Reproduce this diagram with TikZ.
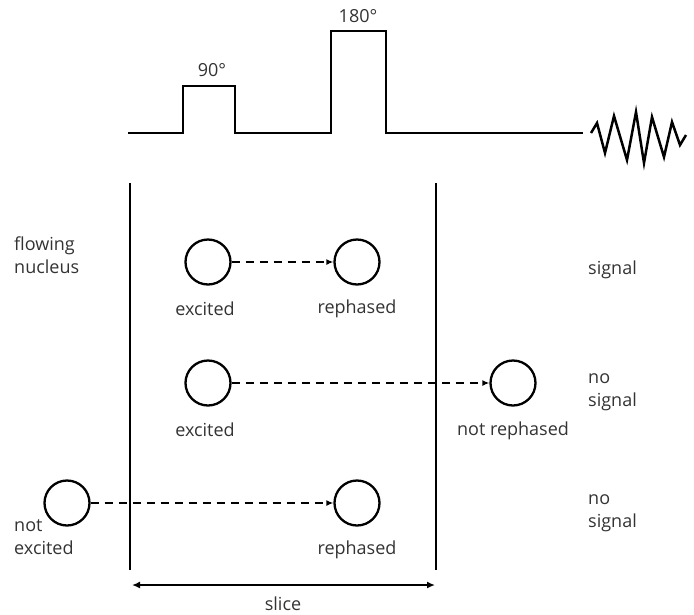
\documentclass[tikz,border=0pt]{standalone}
\usepackage{fontspec}
\setmainfont{Open Sans}
\usetikzlibrary{arrows.meta}
\begin{document}
\begin{tikzpicture}[x=1pt,y=-1pt,
  txt/.style={font=\fontsize{18}{23}\selectfont, text=black!80, inner sep=0pt},
  nuc/.style={circle, draw, line width=2.3pt, minimum size=45pt, inner sep=0pt},
  thick line/.style={line width=2.5pt},
  flow/.style={line width=1.6pt, dash pattern=on 8pt off 6pt, -{Latex[length=7pt,width=6pt]}}]
\useasboundingbox (0,0) rectangle (694,614);
% pulse sequence
\draw[thick line, line join=miter] (128,133) -- (183,133) -- (183,86) -- (235,86) -- (235,133)
  -- (331,133) -- (331,31) -- (386,31) -- (386,133) -- (583,133);
\draw[thick line, line join=miter] (591,133) -- (597,123) -- (605,153) -- (614,116) -- (627,160)
  -- (636,112) -- (644,163) -- (652,117) -- (664,157) -- (672,122) -- (680,145) -- (686,135);
\node[txt] (p90) at (212,70) {90°};
\node[txt] (p180) at (358,16) {180°};
% slice
\coordinate (l1) at (130,183); \coordinate (l2) at (130,570);
\coordinate (r1) at (436,183); \coordinate (r2) at (436,570);
\draw[thick line] (l1) -- (l2);
\draw[thick line] (r1) -- (r2);
\coordinate (sa) at (132,585); \coordinate (sb) at (435,585);
\draw[line width=1.6pt, {Latex[length=8pt,width=7pt]}-{Latex[length=8pt,width=7pt]}] (sa) -- (sb);
\node[txt] (slice) at (283,604) {slice};
% row 1
\node[nuc] (a1) at (208,262) {};
\node[nuc] (b1) at (357,262) {};
\draw[flow] (a1) -- (b1);
\node[txt] (a1l) at (205,309) {excited};
\node[txt] (b1l) at (357,309) {rephased};
% row 2
\node[nuc] (a2) at (208,383) {};
\node[nuc] (b2) at (513,383) {};
\draw[flow] (a2) -- (b2);
\node[txt] (a2l) at (205,430) {excited};
\node[txt] (b2l) at (513,431) {not rephased};
% row 3
\node[nuc] (a3) at (67,503) {};
\node[nuc] (b3) at (357,503) {};
\draw[flow] (a3) -- (b3);
\node[txt, align=left, anchor=north west] (a3l) at (14,519) {not\\excited};
\node[txt] (b3l) at (357,550) {rephased};
% side labels
\node[txt, align=left, anchor=north west] (fn) at (14,237) {flowing\\nucleus};
\node[txt, anchor=west] (s1) at (588,270) {signal};
\node[txt, align=left, anchor=north west] (s2) at (588,373) {no\\signal};
\node[txt, align=left, anchor=north west] (s3) at (588,494) {no\\signal};
\end{tikzpicture}
\end{document}
